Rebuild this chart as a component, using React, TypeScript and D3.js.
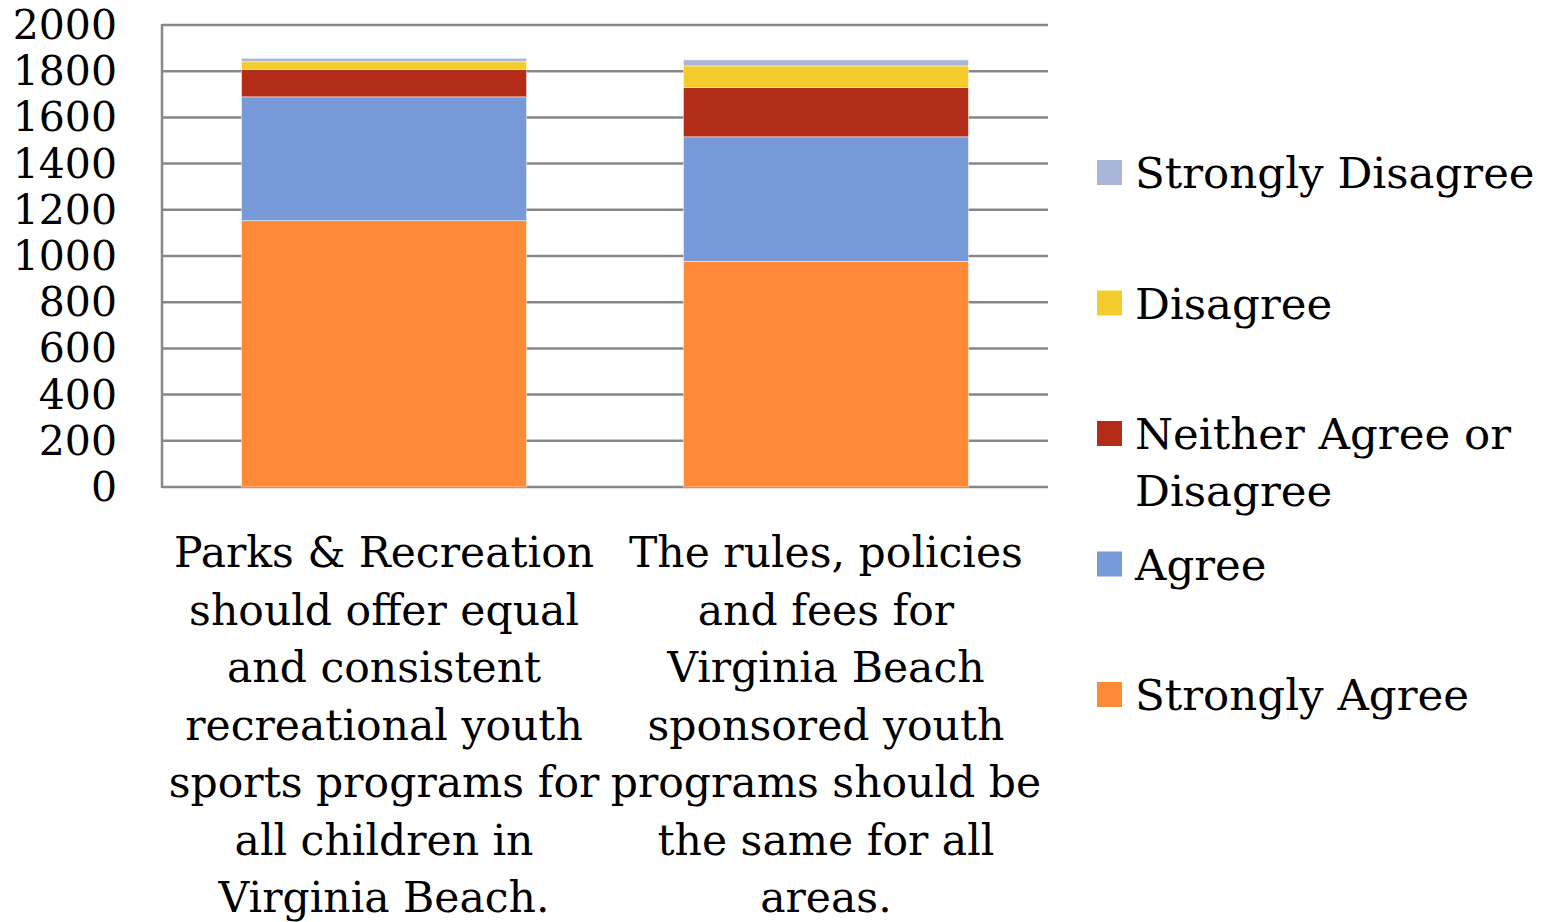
import React from "react";
import * as d3 from "d3";

// Survey responses per statement, stacked bottom to top
const categories = ["parks", "rules"];
const categoryLines: string[][] = [
  [
    "Parks & Recreation",
    "should offer equal",
    "and consistent",
    "recreational youth",
    "sports programs for",
    "all children in",
    "Virginia Beach.",
  ],
  [
    "The rules, policies",
    "and fees for",
    "Virginia Beach",
    "sponsored youth",
    "programs should be",
    "the same for all",
    "areas.",
  ],
];
const seriesNames = [
  "Strongly Agree",
  "Agree",
  "Neither Agree or Disagree",
  "Disagree",
  "Strongly Disagree",
];
const stronglyAgree = [1153, 977];
const agree = [536, 539];
const neither = [119, 214];
const disagree = [33, 93];
const stronglyDisagree = [15, 26];
const seriesColors = ["#FE8937", "#7799D8", "#B22C18", "#F4CC2B", "#AAB6D7"];
const yTicks = [0, 200, 400, 600, 800, 1000, 1200, 1400, 1600, 1800, 2000];

// Legend entries listed top to bottom, label lines per entry
const legendEntries: { series: number; lines: string[] }[] = [
  { series: 4, lines: ["Strongly Disagree"] },
  { series: 3, lines: ["Disagree"] },
  { series: 2, lines: ["Neither Agree or", "Disagree"] },
  { series: 1, lines: ["Agree"] },
  { series: 0, lines: ["Strongly Agree"] },
];

const W = 1541;
const H = 922;
const plot = { left: 162, right: 1048, top: 25, bottom: 487 };
const FONT = "'DejaVu Serif', serif";

export default function App() {
  const rows = categories.map((c, i) => ({
    key: c,
    s0: stronglyAgree[i],
    s1: agree[i],
    s2: neither[i],
    s3: disagree[i],
    s4: stronglyDisagree[i],
  }));
  const stack = d3.stack<any>().keys(["s0", "s1", "s2", "s3", "s4"]);
  const layers = stack(rows);

  const x = d3
    .scaleBand<string>()
    .domain(categories)
    .range([plot.left, plot.right])
    .paddingInner(0.355)
    .paddingOuter(0.18);
  const y = d3.scaleLinear().domain([0, 2000]).range([plot.bottom, plot.top]);

  const gridColor = "#878787";

  return (
    <svg
      width={W}
      height={H}
      style={{ position: "absolute", left: 0, top: 0, display: "block" }}
      fontFamily={FONT}
    >
      <rect width={W} height={H} fill="#fff" />
      {/* gridlines */}
      {yTicks.map((t) => (
        <line
          key={t}
          x1={plot.left}
          x2={plot.right}
          y1={y(t)}
          y2={y(t)}
          stroke={gridColor}
          strokeWidth={2.5}
        />
      ))}
      {/* left axis */}
      <line
        x1={plot.left}
        x2={plot.left}
        y1={plot.top - 1}
        y2={plot.bottom + 1}
        stroke={gridColor}
        strokeWidth={2.5}
      />
      {/* stacked bars */}
      {layers.map((layer, li) => (
        <g key={li} fill={seriesColors[li]}>
          {layer.map((d, ci) => (
            <rect
              key={ci}
              x={x(categories[ci])!}
              width={x.bandwidth()}
              y={y(d[1])}
              height={y(d[0]) - y(d[1])}
              stroke="#ffffff"
              strokeOpacity={0.6}
              strokeWidth={0.8}
            />
          ))}
        </g>
      ))}
      {/* y tick labels */}
      {yTicks.map((t) => (
        <text
          key={t}
          x={117}
          y={y(t) + 14}
          textAnchor="end"
          fontSize={41}
          fill="#000"
        >
          {t}
        </text>
      ))}
      {/* category labels */}
      {categories.map((c, ci) => (
        <text
          key={c}
          x={x(c)! + x.bandwidth() / 2}
          textAnchor="middle"
          fontSize={42.5}
          fill="#000"
        >
          {categoryLines[ci].map((line, li) => (
            <tspan key={li} x={x(c)! + x.bandwidth() / 2} y={567 + li * 57.5}>
              {line}
            </tspan>
          ))}
        </text>
      ))}
      {/* legend */}
      {legendEntries.map((e, i) => {
        const top = 160 + i * 130.5;
        return (
          <g key={e.series}>
            <rect
              x={1097}
              y={top}
              width={25}
              height={25}
              fill={seriesColors[e.series]}
            />
            <text fontSize={43.5} fill="#000">
              {e.lines.map((line, li) => (
                <tspan key={li} x={1135} y={top + 28 + li * 57}>
                  {line}
                </tspan>
              ))}
            </text>
          </g>
        );
      })}
      <title>{seriesNames.join(", ")}</title>
    </svg>
  );
}
